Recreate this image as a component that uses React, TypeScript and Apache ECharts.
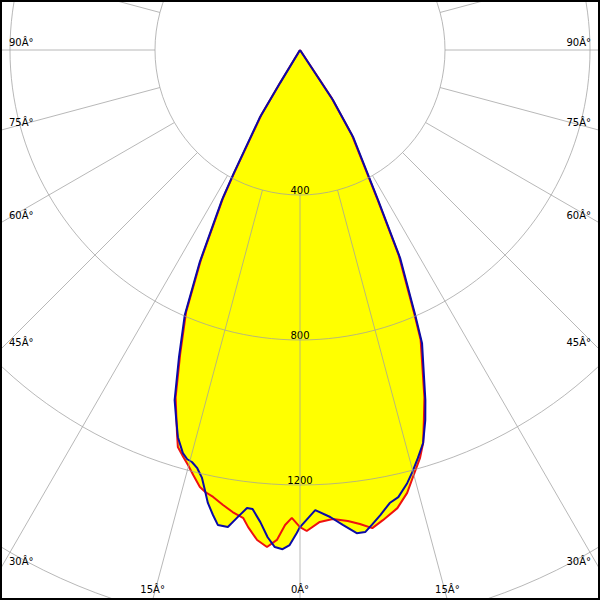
import React, { useEffect, useRef } from 'react';
import * as echarts from 'echarts';

// Photometric angle (deg, negative = left half) and luminous intensity (cd)
const blueAngles = [-35, -31.2, -30.8, -28.2, -27.5, -25.3, -23.5, -21.5, -19.7, -18.5, -17.5, -16.2, -15.4, -14.7, -13.8, -12.9, -12.2, -11.5, -10.6, -9.8, -8.6, -7.6, -6.6, -5.9, -4.8, -3.8, -2.9, -2.0, -1.2, -0.4, 0, 1.9, 3.7, 5.2, 6.7, 7.7, 8.6, 9.8, 11.2, 12.4, 13.9, 14.9, 16.1, 17.4, 18.7, 19.7, 22.6, 23.5, 25.7, 27.5, 28.6, 31.4, 33.4, 36];
const blueValues = [0, 106, 215, 391, 466, 647, 797, 911, 1026, 1076, 1120, 1158, 1171, 1175, 1188, 1211, 1242, 1275, 1305, 1330, 1331, 1300, 1272, 1273, 1307, 1347, 1373, 1378, 1366, 1333, 1316, 1270, 1291, 1316, 1342, 1342, 1325, 1302, 1274, 1263, 1231, 1205, 1172, 1136, 1078, 1026, 876, 797, 637, 466, 393, 281, 165, 0];

const redAngles = [-35, -31.2, -30.8, -28.2, -27.5, -25.3, -23.5, -21.5, -19.7, -17.8, -17.1, -16.0, -15.1, -14.1, -12.9, -12.1, -11.0, -9.6, -8.3, -6.9, -6.2, -5.0, -3.8, -2.7, -1.8, -1.0, 0, 0.8, 2.4, 4.0, 5.8, 7.2, 8.6, 10.0, 12.0, 13.6, 14.8, 16.4, 17.4, 18.5, 19.7, 22.6, 23.5, 25.7, 27.5, 28.6, 31.4, 33.4, 36];
const redValues = [0, 100, 208, 383, 458, 638, 788, 902, 1018, 1110, 1146, 1168, 1186, 1209, 1237, 1247, 1256, 1273, 1288, 1301, 1324, 1357, 1374, 1353, 1311, 1291, 1316, 1327, 1303, 1297, 1306, 1318, 1334, 1317, 1292, 1257, 1219, 1173, 1136, 1077, 1018, 866, 787, 628, 458, 386, 275, 160, 0];

const radiusTicks = [400, 800, 1200];
const angleTicks = [0, 15, 30, 45, 60, 75, 90];
const degreeSuffix = 'Â°';

const SIZE = 600;
const CX = 300;
const CY = 50;
const R_MAX = 2400;
const R_PX = 870;
const STEP = 15;

export default function App() {
  const ref = useRef<HTMLDivElement>(null);
  useEffect(() => {
    document.body.style.margin = '0';
    const chart = echarts.init(ref.current as HTMLDivElement, null, { renderer: 'svg' });
    const toAxis = (g: number) => (g < 0 ? g + 360 : g);
    const pts = (angles: number[], values: number[]) => angles.map((a, i) => [values[i], toAxis(a)]);
    const gridColor = 'rgba(160,160,160,0.75)';
    const font = '"DejaVu Sans", sans-serif';

    const radial: any[] = [];
    for (let a = 0; a < 360; a += STEP) {
      radial.push({
        type: 'line', coordinateSystem: 'polar', data: [[radiusTicks[0], a], [R_MAX, a]],
        symbol: 'none', silent: true, z: 5, lineStyle: { color: gridColor, width: 1 },
      });
    }

    const labels: any[] = [];
    const W = SIZE / 2;
    const H = SIZE - CY;
    angleTicks.forEach((g) => {
      const rad = (g * Math.PI) / 180;
      const sides = g === 0 ? [1] : [-1, 1];
      sides.forEach((s) => {
        const text = `${g}${degreeSuffix}`;
        if (H * Math.tan(rad) <= W) {
          labels.push({
            type: 'text', x: CX + s * H * Math.tan(rad), y: SIZE - 11, z: 20,
            style: { text, fill: '#000', font: `10px ${font}`, textAlign: 'center', textVerticalAlign: 'middle' },
          });
        } else {
          labels.push({
            type: 'text', x: s < 0 ? 9 : SIZE - 9, y: CY + (W * Math.cos(rad)) / Math.sin(rad) - 8, z: 20,
            style: { text, fill: '#000', font: `10px ${font}`, textAlign: s < 0 ? 'left' : 'right', textVerticalAlign: 'middle' },
          });
        }
      });
    });
    labels.push({
      type: 'rect', z: 30, shape: { x: 1, y: 1, width: SIZE - 2, height: SIZE - 2 },
      style: { fill: 'none', stroke: '#000', lineWidth: 2 },
    });

    const area = (name: string, angles: number[], values: number[]) => ({
      name, type: 'line', coordinateSystem: 'polar', data: pts(angles, values), symbol: 'none', silent: true, z: 1,
      lineStyle: { width: 0, opacity: 0 }, areaStyle: { color: '#ffff00', opacity: 1 },
    });
    const line = (name: string, angles: number[], values: number[], color: string) => ({
      name, type: 'line', coordinateSystem: 'polar', data: pts(angles, values), symbol: 'none', silent: true, z: 3,
      lineStyle: { color, width: 2 },
    });

    chart.setOption({
      animation: false,
      backgroundColor: '#ffffff',
      textStyle: { fontFamily: font },
      polar: { center: [CX, CY], radius: R_PX },
      angleAxis: {
        type: 'value', min: 0, max: 360, interval: STEP, startAngle: 270, clockwise: false,
        axisLine: { show: false }, axisTick: { show: false }, axisLabel: { show: false }, splitLine: { show: false },
      },
      radiusAxis: {
        type: 'value', min: 0, max: R_MAX, interval: 400, z: 5,
        axisLine: { show: false }, axisTick: { show: false },
        splitLine: { show: true, lineStyle: { color: gridColor, width: 1 } },
        axisLabel: {
          show: true, margin: 0, align: 'center', verticalAlign: 'bottom', fontSize: 10, color: '#000', fontFamily: font,
          formatter: (v: number) => (radiusTicks.includes(v) ? String(v) : ''),
        },
      },
      series: [
        area('C0-C180 area', redAngles, redValues),
        area('C90-C270 area', blueAngles, blueValues),
        line('C0-C180', redAngles, redValues, '#ee1111'),
        line('C90-C270', blueAngles, blueValues, '#0a0aa8'),
        ...radial,
      ],
      graphic: labels,
    });
    return () => chart.dispose();
  }, []);
  return <div ref={ref} style={{ width: SIZE, height: SIZE, overflow: 'hidden' }} />;
}
